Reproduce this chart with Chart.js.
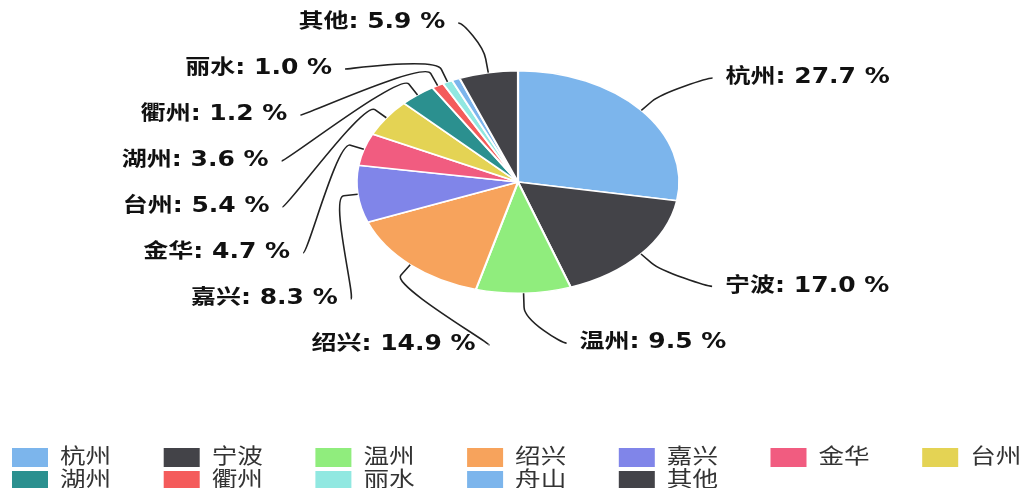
<!DOCTYPE html>
<html>
<head>
<meta charset="utf-8">
<script src="https://cdn.jsdelivr.net/npm/chart.js@4"></script>
<style>
  html, body { margin: 0; padding: 0; background: #fff; }
  #wrap { position: relative; width: 1027px; height: 488px; }
</style>
</head>
<body>
<div id="wrap"><canvas id="pieChart"></canvas></div>
<script>
// data
const cities = ['杭州', '宁波', '温州', '绍兴', '嘉兴', '金华', '台州', '湖州', '衢州', '丽水', '舟山', '其他'];
const shares = [27.7, 17.0, 9.5, 14.9, 8.3, 4.7, 5.4, 3.6, 1.2, 1.0, 0.8, 5.9];
const colors = ['#7cb5ec', '#434348', '#90ed7d', '#f7a35c', '#8085e9', '#f15c80',
                '#e4d354', '#2b908f', '#f45b5b', '#91e8e1', '#7cb5ec', '#434348'];

const STRETCH = 1.45;      // pie is drawn wider than tall
const TEXT_STRETCH = 1.22; // text is a bit wide too
const FONT = "'DejaVu Sans', 'Noto Sans CJK SC', sans-serif";

function wideText(ctx, text, x, y, align) {
    ctx.save();
    ctx.translate(x, y);
    ctx.scale(TEXT_STRETCH, 1);
    ctx.textAlign = align;
    ctx.fillText(text, 0, 0);
    ctx.restore();
}

// push labels apart so they do not overlap
function spread(list, top, bottom, gap) {
    list.sort((a, b) => a.y - b.y);
    list.forEach((it, k) => { it.y = Math.max(it.y, k ? list[k - 1].y + gap : top); });
    for (let k = list.length - 1; k >= 0; k--) {
        const lim = k === list.length - 1 ? bottom : list[k + 1].y - gap;
        list[k].y = Math.min(list[k].y, lim);
    }
    list.forEach((it, k) => { it.y = Math.max(it.y, k ? list[k - 1].y + gap : top); });
}

const squashPie = {
    id: 'squashPie',
    beforeDatasetsDraw(chart) {
        const arc = chart.getDatasetMeta(0).data[0];
        const ctx = chart.ctx;
        ctx.save();
        ctx.translate(arc.x, arc.y);
        ctx.scale(STRETCH, 1);
        ctx.translate(-arc.x, -arc.y);
    },
    afterDatasetsDraw(chart) {
        chart.ctx.restore();
    }
};

const pieLabels = {
    id: 'pieLabels',
    afterDraw(chart) {
        const ctx = chart.ctx;
        const arcs = chart.getDatasetMeta(0).data;
        const cx = arcs[0].x, cy = arcs[0].y;
        const ry = arcs[0].outerRadius, rx = ry * STRETCH;
        const lry = ry + 53;

        const left = [], right = [];
        arcs.forEach((a, i) => {
            if (shares[i] < 0.95) return; // too thin for a label
            const mid = (a.startAngle + a.endAngle) / 2;
            const c = Math.cos(mid), s = Math.sin(mid);
            const item = { i, c, s, y: cy + (ry + 50) * s };
            (c >= 0 ? right : left).push(item);
        });
        spread(left, 22, 345, 46);
        spread(right, 22, 345, 46);

        ctx.font = 'bold 20.5px ' + FONT;
        ctx.textBaseline = 'middle';
        ctx.strokeStyle = '#222';
        ctx.lineWidth = 1.6;
        ctx.fillStyle = '#111';

        [...left, ...right].forEach(it => {
            const isRight = it.c >= 0;
            const lrx = rx + (isRight ? 90 : 77);
            const dy = (it.y - cy) / lry;
            const ax = cx + (isRight ? 1 : -1) * lrx * Math.sqrt(Math.max(0, 1 - dy * dy));
            const o = 14;
            const tx = cx + rx * it.c, ty = cy + ry * it.s;
            const bx = cx + (rx + o) * it.c, by = cy + (ry + o) * it.s;

            ctx.beginPath();
            ctx.moveTo(ax, it.y);
            ctx.bezierCurveTo(ax + (isRight ? -5 : 5), it.y, 2 * bx - tx, 2 * by - ty, bx, by);
            ctx.lineTo(tx, ty);
            ctx.stroke();

            const label = cities[it.i] + ': ' + shares[it.i].toFixed(1) + ' %';
            wideText(ctx, label, ax + (isRight ? 13 : -13), it.y, isRight ? 'left' : 'right');
        });

        // legend, 7 per row
        ctx.font = '21px ' + FONT;
        cities.forEach((name, i) => {
            const col = i % 7, row = Math.floor(i / 7);
            const x = 12 + col * 151.7, y = 457.5 + row * 23;
            ctx.fillStyle = colors[i];
            ctx.fillRect(x, y - 9.5, 36, 19);
            ctx.fillStyle = '#333';
            wideText(ctx, name, x + 48, y, 'left');
        });
    }
};

new Chart(document.getElementById('pieChart'), {
    type: 'pie',
    data: {
        labels: cities,
        datasets: [{
            data: shares,
            backgroundColor: colors,
            borderColor: '#fff',
            borderWidth: 1.5
        }]
    },
    options: {
        responsive: true,
        maintainAspectRatio: false,
        animation: false,
        layout: { padding: { top: 70, bottom: 194, left: 300, right: 291 } },
        plugins: {
            legend: { display: false },
            tooltip: { enabled: false }
        }
    },
    plugins: [squashPie, pieLabels]
});
</script>
</body>
</html>
